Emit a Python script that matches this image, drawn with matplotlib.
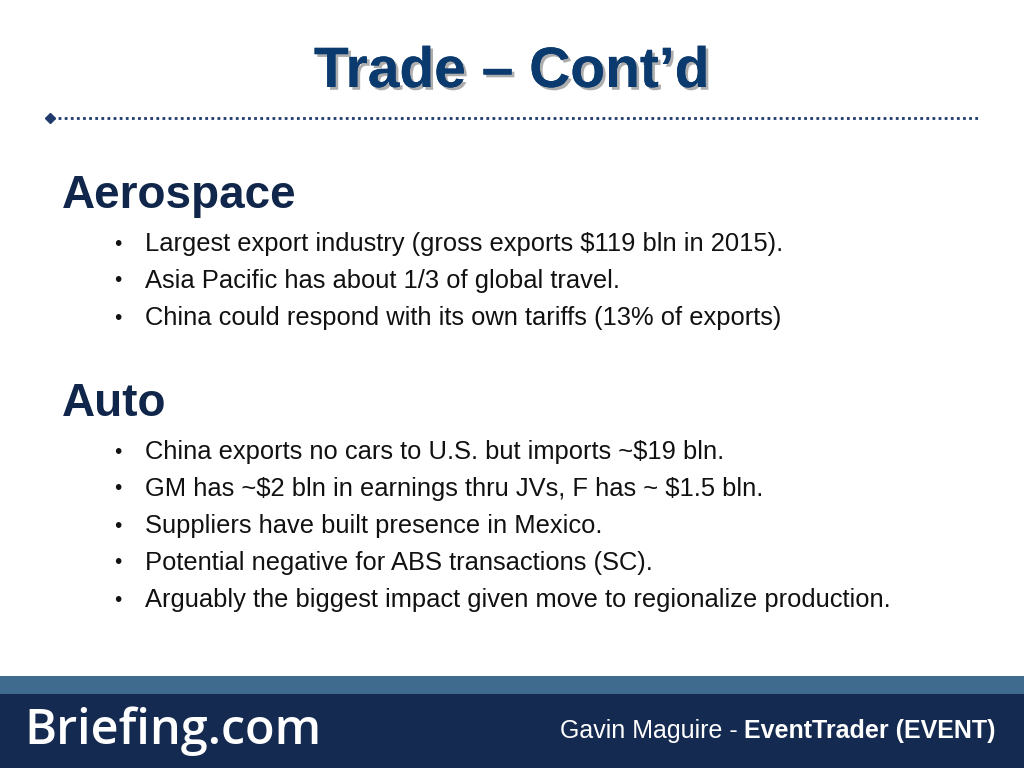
import matplotlib
matplotlib.use("Agg")
import matplotlib.pyplot as plt
import matplotlib.patheffects as pe
from matplotlib.patches import Rectangle

plt.rcParams["text.parse_math"] = False

title = "Trade \u2013 Cont\u2019d"
sections = ["Aerospace", "Auto"]
aero_bullets = [
    "Largest export industry (gross exports $119 bln in 2015).",
    "Asia Pacific has about 1/3 of global travel.",
    "China could respond with its own tariffs (13% of exports)",
]
auto_bullets = [
    "China exports no cars to U.S. but imports ~$19 bln.",
    "GM has ~$2 bln in earnings thru JVs, F has ~ $1.5 bln.",
    "Suppliers have built presence in Mexico.",
    "Potential negative for ABS transactions (SC).",
    "Arguably the biggest impact given move to regionalize production.",
]
footer_brand = "Briefing.com"
footer_author = "Gavin Maguire - "
footer_show = "EventTrader (EVENT)"

fig = plt.figure(figsize=(10.24, 7.68), dpi=100)
ax = fig.add_axes([0, 0, 1, 1])
ax.set_xlim(0, 1024)
ax.set_ylim(768, 0)
ax.axis("off")

body = ["Liberation Sans", "DejaVu Sans"]

# title with soft shadow
ax.text(512, 72, title, ha="center", va="center", fontsize=41, fontweight="bold",
        family=body, color="#0b3a6e",
        path_effects=[pe.withSimplePatchShadow(offset=(2, -2), shadow_rgbFace="#999999", alpha=0.8),
                      pe.Normal()])

# dotted rule with diamond
ax.plot([52, 980], [118, 118], linestyle=(0, (1, 1.2)), color="#1f3a6b", lw=2)
ax.plot([50], [118], marker="D", color="#1f3a6b", markersize=5)

def block(y0, head, bullets):
    ax.text(62, y0, head, ha="left", va="center", fontsize=33, fontweight="bold",
            family=body, color="#10264a")
    for i, b in enumerate(bullets):
        y = y0 + 48 + i * 37
        ax.text(118, y, "\u2022", ha="center", va="center", fontsize=15, family=body, color="#111111")
        ax.text(145, y, b, ha="left", va="center", fontsize=18.4, family=body, color="#111111")

block(196, sections[0], aero_bullets)
block(404, sections[1], auto_bullets)

# footer band
ax.add_patch(Rectangle((0, 676), 1024, 18, color="#3e6b8e", lw=0))
ax.add_patch(Rectangle((0, 694), 1024, 74, color="#152a50", lw=0))
ax.text(24, 731, footer_brand, ha="left", va="center", fontsize=35, fontweight="semibold",
        family=["Open Sans", "DejaVu Sans"], color="white")
t = ax.text(996, 731, footer_show, ha="right", va="center", fontsize=18, fontweight="bold",
            family=body, color="white")
fig.canvas.draw()
bb = t.get_window_extent()
ax.annotate(footer_author, xy=(bb.x0, 768 - 731), xycoords="figure pixels", ha="right", va="center",
            fontsize=18, family=body, color="white")

fig.savefig("out.png", dpi=100)
